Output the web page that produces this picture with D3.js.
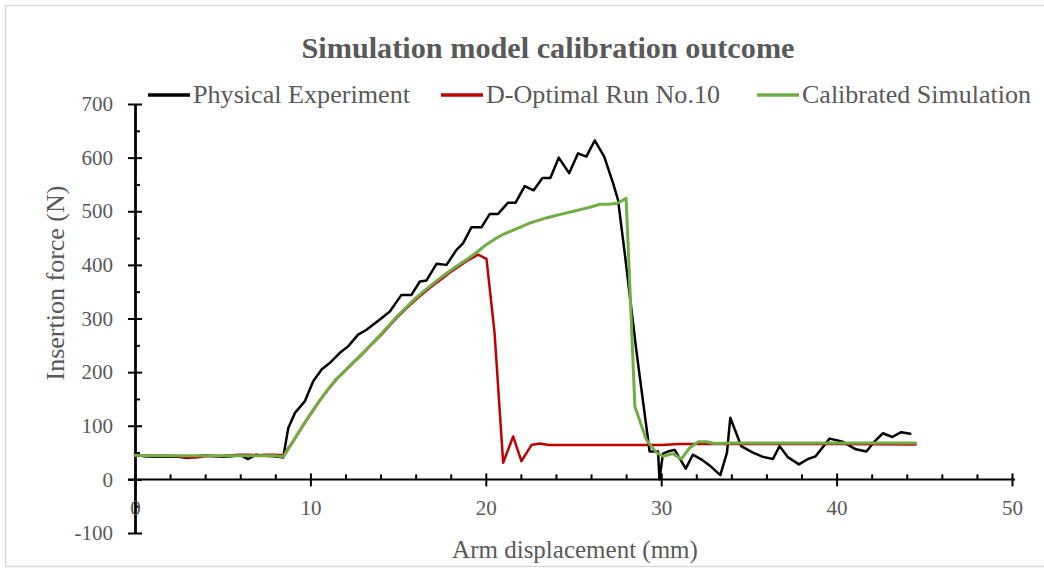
<!DOCTYPE html>
<html>
<head>
<meta charset="utf-8">
<script src="https://cdn.jsdelivr.net/npm/d3@7"></script>
<style>
  html, body { margin: 0; padding: 0; background: #fff; }
  svg { display: block; }
  text { font-family: "Liberation Serif", "Times New Roman", serif; fill: #595959; }
</style>
</head>
<body>
<svg id="chart" width="1044" height="571"></svg>
<script>
// ---- data ----
const chartTitle = "Simulation model calibration outcome";
const xTitle = "Arm displacement (mm)";
const yTitle = "Insertion force (N)";
const seriesNames = ["Physical Experiment", "D-Optimal Run No.10", "Calibrated Simulation"];
const seriesColors = ["#000000", "#C00000", "#70AD47"];
const xTickValues = [0, 10, 20, 30, 40, 50];
const yTickValues = [-100, 0, 100, 200, 300, 400, 500, 600, 700];

const physicalExperiment = [
  [0,48],[0.5,43],[1,42],[1.5,42],[2,42],[2.5,42],[3,40],[3.5,43],[4,45],[4.5,43],[5,42],[5.5,43],
  [6,45],[6.45,38],[6.9,46],[7.4,44],[7.9,43],[8.45,41],[8.74,96],[9.12,124],[9.69,146],[10.16,183],
  [10.64,205],[11.1,217],[11.68,236],[12.15,248],[12.72,270],[13.2,279],[13.96,298],[14.53,313],
  [15.19,344],[15.76,344],[16.24,369],[16.62,371],[17.19,402],[17.76,400],[18.33,428],[18.7,440],
  [19.18,470],[19.75,470],[20.23,495],[20.7,495],[21.27,516],[21.7,516],[22.22,547],[22.73,539],
  [23.23,562],[23.68,562],[24.16,600],[24.75,571],[25.26,608],[25.73,602],[26.21,632],[26.75,602],
  [27.26,552],[27.54,521],[27.92,422],[28.6,236],[29.34,52],[29.82,52],[29.9,0],[30.1,48],[30.48,53],
  [30.77,55],[31.4,20],[31.8,46],[32.3,37],[32.76,26],[33.37,8],[33.75,50],[33.94,115],[34.56,62],
  [35.23,50],[35.8,42],[36.37,38],[36.75,62],[37.2,42],[37.85,28],[38.37,38],[38.8,43],[39.6,76],
  [40.36,70],[41.1,56],[41.7,52],[42.17,71],[42.64,86],[43.17,79],[43.68,88],[44.2,85]
];

const dOptimalRun10 = [
  [0,44],[0.5,44],[1,44],[2,44],[2.5,43],[3,41],[3.5,41],[4,43],[5,44],[5.5,45],[6,46],[6.5,46],
  [7,45],[7.5,46],[8,46],[8.45,45],[9,70],[9.5,96],[10,121],[10.5,145],[11,167],[11.5,187],[12,203],
  [12.5,219],[13,235],[13.5,252],[14,268],[14.5,286],[15,304],[15.5,320],[16,335],[16.5,349],
  [17,362],[17.5,374],[18,387],[18.5,398],[19,409],[19.56,419],[20.04,411],[20.5,273],[20.99,31],
  [21.56,80],[22.03,34],[22.6,64],[23.08,67],[23.6,64],[25,64],[27,64],[29,64],[30,64],[30.5,65],
  [31,66],[33,66],[36,66],[40,66],[44.5,65]
];

const calibratedSimulation = [
  [0,45],[1,44],[2,44],[3,44],[4,44],[5,44],[6,44],[7,44],[8,44],[8.45,42],[9,70],[9.5,97],
  [10,122],[10.5,146],[11,168],[11.5,188],[12,204],[12.5,220],[13,236],[13.5,253],[14,270],
  [14.5,288],[15,306],[15.5,322],[16,338],[16.5,352],[17,365],[17.5,378],[18,390],[18.5,401],
  [19,412],[19.5,424],[20,437],[20.5,448],[21,457],[21.5,464],[22,471],[22.5,478],[23,483],
  [23.5,488],[24,492],[24.5,496],[25,500],[25.5,504],[26,508],[26.5,513],[27,513],[27.5,515],
  [28,524],[28.5,136],[29.15,74],[29.72,50],[30.1,43],[30.67,48],[31.15,38],[31.6,58],[32.1,70],
  [32.57,70],[33.05,67],[34,68],[36,68],[38,68],[40,68],[42,68],[44.5,68]
];

const allSeries = [physicalExperiment, dOptimalRun10, calibratedSimulation];

// ---- layout ----
const svg = d3.select("#chart");
const x = d3.scaleLinear().domain([0, 50]).range([135, 1012]);
const y = d3.scaleLinear().domain([-100, 700]).range([533, 104]);

// chart frame
svg.append("rect").attr("x", 5.5).attr("y", 5.5).attr("width", 1060).attr("height", 561)
  .attr("fill", "#fff").attr("stroke", "#d9d9d9").attr("stroke-width", 1.5);

// title
svg.append("text").attr("x", 548).attr("y", 58).attr("text-anchor", "middle")
  .attr("font-size", 29).attr("font-weight", "bold").attr("textLength", 493)
  .attr("lengthAdjust", "spacingAndGlyphs").text(chartTitle);

const axisColor = "#000";
const plainFormat = d => String(d);
// ---- Y axis ----
const yMinor = d3.range(-50, 700, 100);
const gy = svg.append("g").attr("transform", `translate(${x(0)},0)`);
gy.call(d3.axisLeft(y).tickValues(yTickValues).tickSizeInner(7).tickSizeOuter(0).tickPadding(15)
  .tickFormat(plainFormat));
gy.append("g").call(d3.axisRight(y).tickValues(yTickValues).tickSizeInner(7).tickSizeOuter(0).tickFormat(""));
gy.append("g").call(d3.axisRight(y).tickValues(yMinor).tickSizeInner(5).tickSizeOuter(0).tickFormat(""));
gy.selectAll(".domain").attr("stroke", axisColor).attr("stroke-width", 2);
gy.selectAll("line").attr("stroke", axisColor).attr("stroke-width", 2);
gy.selectAll("text").attr("font-size", 21).attr("fill", "#595959").attr("font-family", "Liberation Serif");

// ---- X axis ----
const xMinor = d3.range(2, 50, 2).filter(v => v % 10 !== 0);
const gx = svg.append("g").attr("transform", `translate(0,${y(0)})`);
gx.call(d3.axisBottom(x).tickValues(xTickValues).tickSizeInner(7).tickSizeOuter(0).tickFormat(plainFormat));
gx.append("g").call(d3.axisTop(x).tickValues(xTickValues).tickSizeInner(6).tickSizeOuter(0).tickFormat(""));
gx.append("g").call(d3.axisTop(x).tickValues(xMinor).tickSizeInner(5).tickSizeOuter(0).tickFormat(""));
gx.selectAll(".domain").remove();
gx.append("line").attr("x1", x(0) - 7).attr("x2", x(50) + 3).attr("stroke", axisColor).attr("stroke-width", 2);
gx.selectAll("line").attr("stroke", axisColor).attr("stroke-width", 2);
gx.selectAll(".tick text").attr("y", 36).attr("dy", 0).attr("font-size", 21)
  .attr("fill", "#595959").attr("font-family", "Liberation Serif");

// axis titles
svg.append("text").attr("x", 575).attr("y", 558).attr("text-anchor", "middle")
  .attr("font-size", 25).text(xTitle);
svg.append("text").attr("transform", "translate(64,283) rotate(-90)").attr("text-anchor", "middle")
  .attr("font-size", 26).text(yTitle);

// ---- series ----
const line = d3.line().x(d => x(d[0])).y(d => y(d[1]));
const widths = [2.5, 2.5, 3];
allSeries.forEach((s, i) => {
  svg.append("path").datum(s).attr("d", line).attr("fill", "none")
    .attr("stroke", seriesColors[i]).attr("stroke-width", widths[i])
    .attr("stroke-linejoin", "round").attr("stroke-linecap", "round");
});

// ---- legend ----
const legendX = [148, 441, 757];
const legendW = [217, 234, 229];
const lg = svg.append("g");
seriesNames.forEach((name, i) => {
  lg.append("line").attr("x1", legendX[i]).attr("x2", legendX[i] + 42).attr("y1", 95).attr("y2", 95)
    .attr("stroke", seriesColors[i]).attr("stroke-width", 3.5);
  lg.append("text").attr("x", legendX[i] + 45).attr("y", 103).attr("font-size", 25)
    .attr("textLength", legendW[i]).attr("lengthAdjust", "spacingAndGlyphs").text(name);
});
</script>
</body>
</html>
